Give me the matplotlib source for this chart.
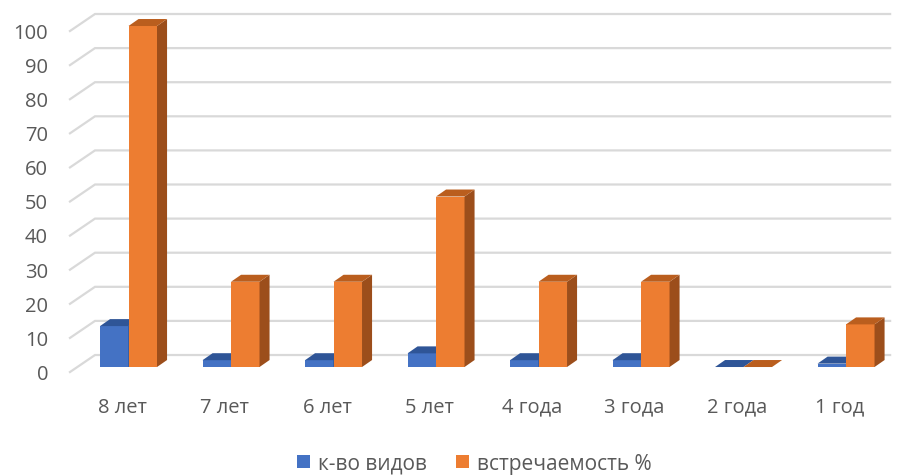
import matplotlib.pyplot as plt
from matplotlib.patches import Polygon, Patch

plt.rcParams["font.family"] = ["Open Sans", "DejaVu Sans"]

categories = ["8 лет", "7 лет", "6 лет", "5 лет", "4 года", "3 года", "2 года", "1 год"]
species_count = [12, 2, 2, 4, 2, 2, 0, 1]
occurrence_pct = [100, 25, 25, 50, 25, 25, 0, 12.5]
series_names = ["к-во видов", "встречаемость %"]
y_ticks = list(range(0, 101, 10))

# face colours: front, top, side
blue = ("#4472C4", "#2F5597", "#2B4C86")
orange = ("#ED7D31", "#BA5E1E", "#9C4E1B")
text_grey = "#595959"
grid_grey = "#D9D9D9"
fs = 14.5

bar_w = 0.278          # width of one column, category units
depth_dx = 0.098       # perspective depth shift (x, category units)
depth_dy = 2.05        # perspective depth shift (y, value units)

fig = plt.figure(figsize=(9.02, 4.77), dpi=100)
ax = fig.add_axes([0, 0, 1, 1])
ax.set_xlim(-1.2537, 7.546)
ax.set_ylim(-31.96, 107.92)
ax.axis("off")

# gridlines: left wall diagonal + back wall
wall_front_x, wall_back_x, wall_right_x = -0.571, -0.327, 7.43
for t in y_ticks:
    ax.plot([wall_front_x, wall_back_x, wall_right_x],
            [t - 1.47, t + 3.52, t + 3.52],
            color=grid_grey, lw=1.6, solid_joinstyle="miter", zorder=1)
    ax.text(-0.785, t - 2.0, str(t), ha="right", va="center",
            fontsize=fs, color=text_grey)


def draw_column(x0, v, cols):
    front, top, side = cols
    if v > 0:
        ax.add_patch(Polygon([(x0, 0), (x0 + bar_w, 0), (x0 + bar_w, v), (x0, v)],
                             closed=True, fc=front, ec="none", zorder=3))
        ax.add_patch(Polygon([(x0 + bar_w, 0), (x0 + bar_w + depth_dx, depth_dy),
                              (x0 + bar_w + depth_dx, v + depth_dy), (x0 + bar_w, v)],
                             closed=True, fc=side, ec="none", zorder=3))
    ax.add_patch(Polygon([(x0, v), (x0 + bar_w, v),
                          (x0 + bar_w + depth_dx, v + depth_dy), (x0 + depth_dx, v + depth_dy)],
                         closed=True, fc=top, ec="none", zorder=3))


for i, (a, b) in enumerate(zip(species_count, occurrence_pct)):
    draw_column(i - bar_w, a, blue)
    draw_column(i, b, orange)
    ax.text(i - 0.063, -11.6, categories[i], ha="center", va="center",
            fontsize=fs, color=text_grey)

handles = [Patch(fc=blue[0]), Patch(fc=orange[0])]
fig.legend(handles, series_names, loc="center", bbox_to_anchor=(0.526, 0.027),
           ncol=2, frameon=False, fontsize=15, labelcolor=text_grey,
           handlelength=0.6, handleheight=0.6, handletextpad=0.4, columnspacing=1.4)

fig.savefig("out.png", dpi=100)
